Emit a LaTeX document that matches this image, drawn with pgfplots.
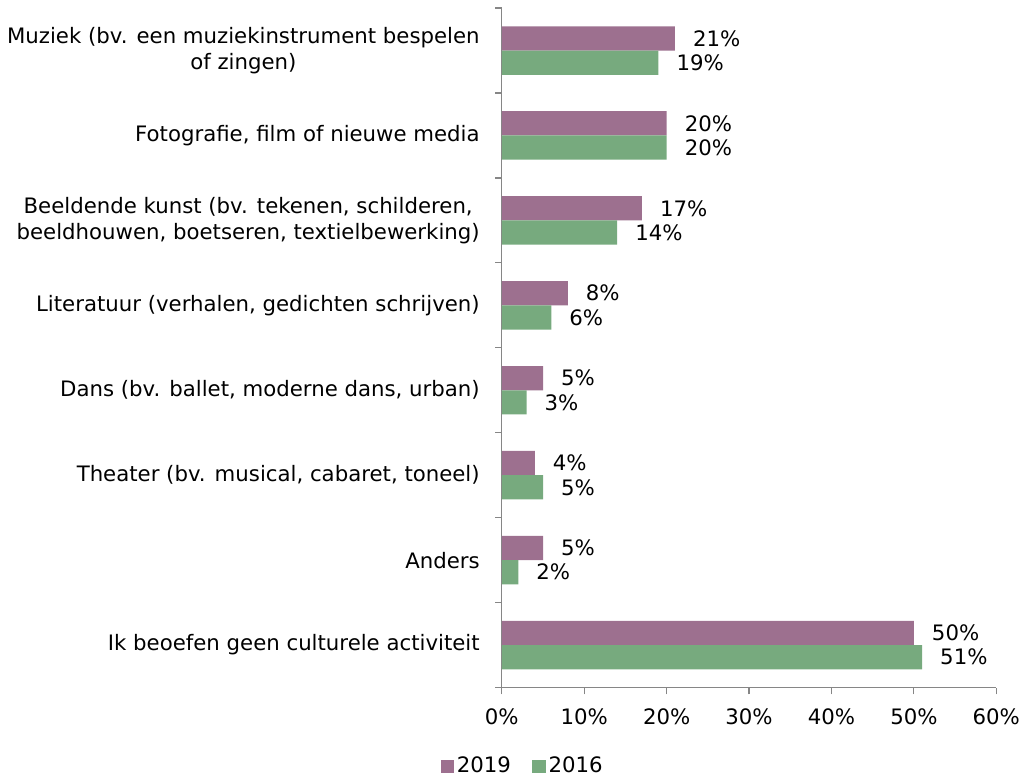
\documentclass[border=0pt]{standalone}
\usepackage{pgfplots}
\pgfplotsset{compat=1.18}
\usepackage{fontspec}
\setmainfont{DejaVu Sans}
\definecolor{cpurple}{HTML}{9D708F}
\definecolor{cgreen}{HTML}{77AA7E}
\definecolor{axgray}{HTML}{868686}
\begin{document}
\fontsize{15.8pt}{19pt}\selectfont
\begin{tikzpicture}
\begin{axis}[
  scale only axis,
  width=367.5pt, height=505pt,
  xbar, bar width=18pt,
  xmin=0, xmax=60,
  ymin=-0.5, ymax=7.5,
  xtick={0,10,...,60},
  xticklabel={\pgfmathprintnumber{\tick}\%},
  /pgf/number format/assume math mode=true,
  ytick={0,...,7},
  yticklabels={Ik beoefen geen culturele activiteit, Anders, {Theater (bv. musical, cabaret, toneel)}, {Dans (bv. ballet, moderne dans, urban)}, {Literatuur (verhalen, gedichten schrijven)}, {Beeldende kunst (bv. tekenen, schilderen,\\beeldhouwen, boetseren, textielbewerking)}, {Fotografie, film of nieuwe media}, {Muziek (bv. een muziekinstrument bespelen\\of zingen)}},
  yticklabel style={align=center, font=\fontsize{15.8pt}{19pt}\selectfont, xshift=-6pt},
  xticklabel style={font=\fontsize{15.8pt}{19pt}\selectfont, yshift=-5pt},
  major y tick style={draw=none},
  minor ytick={-0.5,0.5,...,7.5},
  minor tick length=5pt,
  major tick length=5pt,
  tick align=outside,
  xtick pos=bottom, ytick pos=left,
  axis x line*=bottom, axis y line*=left,
  axis line style={axgray, line width=0.9pt},
  tick style={axgray, line width=0.9pt},
  every minor tick/.style={axgray, line width=0.9pt},
  nodes near coords={\pgfmathprintnumber{\pgfplotspointmeta}\%},
  nodes near coords style={font=\fontsize{15.8pt}{19pt}\selectfont, anchor=west, xshift=8pt},
  legend style={at={(axis description cs:0.043,-0.116)}, anchor=center, draw=none, legend columns=2, font=\fontsize{15.8pt}{19pt}\selectfont, /tikz/every even column/.append style={column sep=14pt}},
  legend image code/.code={\fill[#1] (0pt,-5pt) rectangle (10pt,5pt);},
]
\addplot[fill=cpurple, draw=none, bar shift=9pt] coordinates {(50,0) (5,1) (4,2) (5,3) (8,4) (17,5) (20,6) (21,7)};
\addlegendentry{2019}
\addplot[fill=cgreen, draw=none, bar shift=-9pt] coordinates {(51,0) (2,1) (5,2) (3,3) (6,4) (14,5) (20,6) (19,7)};
\addlegendentry{2016}
\end{axis}
\path (current axis.north west) ++(0,6pt);
\end{tikzpicture}
\end{document}
